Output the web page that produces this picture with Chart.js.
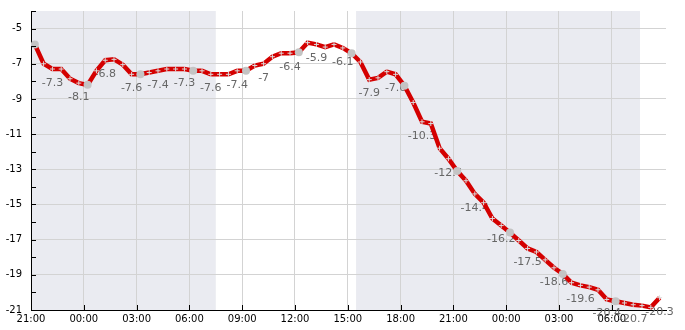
<!DOCTYPE html>
<html>
<head>
<meta charset="utf-8">
<script src="https://cdn.jsdelivr.net/npm/chart.js@4.4.1/dist/chart.umd.min.js"></script>
<style>
  html, body { margin: 0; padding: 0; background: #fff; }
</style>
</head>
<body>
<canvas id="temp-chart" width="685" height="330"></canvas>
<script>
// temperatura cada 30 min (hora local), desde 21:13
const times = [
  '21:13','21:43','22:13','22:43','23:13','23:43','00:13','00:43','01:13','01:43','02:13','02:43',
  '03:13','03:43','04:13','04:43','05:13','05:43','06:13','06:43','07:13','07:43','08:13','08:43',
  '09:13','09:43','10:13','10:43','11:13','11:43','12:13','12:43','13:13','13:43','14:13','14:43',
  '15:13','15:43','16:13','16:43','17:13','17:43','18:13','18:43','19:13','19:43','20:13','20:43',
  '21:13','21:43','22:13','22:43','23:13','23:43','00:13','00:43','01:13','01:43','02:13','02:43',
  '03:13','03:43','04:13','04:43','05:13','05:43','06:13','06:43','07:13','07:43','08:13','08:43'
];
const temps = [
  -5.9, -7.0, -7.3, -7.3, -7.85, -8.1, -8.2, -7.4, -6.8, -6.75, -7.05, -7.6,
  -7.6, -7.5, -7.4, -7.3, -7.3, -7.3, -7.4, -7.4, -7.6, -7.6, -7.6, -7.4,
  -7.4, -7.1, -7.0, -6.6, -6.4, -6.4, -6.35, -5.8, -5.9, -6.05, -5.9, -6.1,
  -6.4, -6.9, -7.9, -7.8, -7.45, -7.6, -8.25, -9.2, -10.3, -10.4, -11.8, -12.4,
  -13.1, -13.65, -14.4, -14.9, -15.8, -16.2, -16.6, -17.05, -17.5, -17.7, -18.15, -18.6,
  -18.95, -19.45, -19.6, -19.7, -19.85, -20.4, -20.5, -20.6, -20.7, -20.75, -20.85, -20.3
];

// puntos grises (cada 3 h)
const obsTimes = ['21:13','00:13','03:13','06:13','09:13','12:13','15:13','18:13','21:13','00:13','03:13','06:13'];
const obsTemps = [-5.9, -8.2, -7.6, -7.4, -7.4, -6.35, -6.4, -8.25, -13.1, -16.6, -18.95, -20.5];

// etiquetas de valor (cada 1.5 h)
const labelTimes = [
  '22:13','23:43','01:13','02:43','04:13','05:43','07:13','08:43','10:13','11:43','13:13','14:43',
  '16:13','17:43','19:13','20:43','22:13','23:43','01:13','02:43','04:13','05:43','07:13','08:43'
];
const labelTemps = [
  -7.3, -8.1, -6.8, -7.6, -7.4, -7.3, -7.6, -7.4, -7, -6.4, -5.9, -6.1,
  -7.9, -7.6, -10.3, -12.4, -14.4, -16.2, -17.5, -18.6, -19.6, -20.4, -20.7, -20.3
];

const tickLabels = ['21:00','00:00','03:00','06:00','09:00','12:00','15:00','18:00','21:00','00:00','03:00','06:00'];

// franjas nocturnas, en horas desde las 21:00
const nightBands = [[0, 10.5], [18.47, 34.6]];

// "HH:MM" -> horas desde 21:00 del primer dia
function toHours(list) {
    let day = 0, prev = -1;
    return list.map(t => {
        const [hh, mm] = t.split(':').map(Number);
        const v = hh + mm / 60;
        if (prev >= 0 && v < prev) day++;
        prev = v;
        return v - 21 + 24 * day;
    });
}

const pts = (tl, vals) => toHours(tl).map((x, i) => ({ x, y: vals[i] }));

const FONT = 'DejaVu Sans';

const nightPlugin = {
    id: 'night',
    beforeDraw(chart) {
        const { ctx, chartArea: a, scales: { x } } = chart;
        ctx.save();
        ctx.fillStyle = '#eaebf1';
        nightBands.forEach(([s, e]) => {
            const x0 = x.getPixelForValue(s), x1 = x.getPixelForValue(e);
            ctx.fillRect(x0, a.top, x1 - x0, a.bottom - a.top);
        });
        ctx.restore();
    }
};

const valueLabels = {
    id: 'valueLabels',
    beforeDatasetsDraw(chart) {
        const { ctx } = chart;
        const meta = chart.getDatasetMeta(2);
        ctx.save();
        ctx.font = '11px "' + FONT + '"';
        ctx.fillStyle = '#666';
        ctx.textAlign = 'center';
        ctx.textBaseline = 'middle';
        meta.data.forEach((p, i) => {
            ctx.fillText(String(labelTemps[i]), p.x, p.y + 14);
        });
        ctx.restore();
    }
};

// marcas de eje hacia dentro
const innerTicks = {
    id: 'innerTicks',
    afterDatasetsDraw(chart) {
        const { ctx, chartArea: a, scales: { x, y } } = chart;
        ctx.save();
        ctx.strokeStyle = '#000';
        ctx.lineWidth = 1;
        ctx.beginPath();
        y.ticks.forEach(t => {
            const py = Math.round(y.getPixelForValue(t.value)) + 0.5;
            ctx.moveTo(a.left, py);
            ctx.lineTo(a.left + 5, py);
        });
        x.ticks.forEach(t => {
            const px = Math.round(x.getPixelForValue(t.value)) + 0.5;
            ctx.moveTo(px, a.bottom);
            ctx.lineTo(px, a.bottom - 5);
        });
        ctx.stroke();
        ctx.restore();
    }
};

const gridColor = '#d3d3d3';

new Chart(document.getElementById('temp-chart'), {
    type: 'line',
    data: {
        datasets: [
            {
                label: 'obs',
                data: pts(obsTimes, obsTemps),
                showLine: false,
                pointRadius: 4,
                pointBackgroundColor: '#c4c4c4',
                pointBorderWidth: 0,
                order: 0
            },
            {
                label: 'temp',
                data: pts(times, temps),
                borderColor: '#d40000',
                borderWidth: 4.5,
                tension: 0,
                pointStyle: 'cross',
                pointRadius: 2.5,
                pointBorderColor: '#dcdcdc',
                pointBorderWidth: 1,
                order: 1
            },
            {
                label: 'labels',
                data: pts(labelTimes, labelTemps),
                showLine: false,
                pointRadius: 0,
                order: 2
            }
        ]
    },
    options: {
        responsive: false,
        animation: false,
        events: [],
        layout: { padding: { top: 11, right: 19, left: 0, bottom: 0 } },
        plugins: {
            legend: { display: false },
            tooltip: { enabled: false }
        },
        scales: {
            x: {
                type: 'linear',
                min: 0,
                max: 36.08,
                afterBuildTicks: s => { s.ticks = tickLabels.map((_, i) => ({ value: i * 3 })); },
                afterFit: s => { s.height = 20; s.paddingLeft = 0; s.paddingRight = 0; },
                ticks: {
                    callback: (v, i) => tickLabels[i],
                    color: '#000',
                    font: { family: FONT, size: 10 },
                    padding: 3,
                    maxRotation: 0,
                    autoSkip: false
                },
                grid: { color: gridColor, drawTicks: false },
                border: { color: '#000' }
            },
            y: {
                min: -21,
                max: -4,
                afterFit: s => { s.width = 31; s.paddingTop = 0; s.paddingBottom = 0; },
                ticks: {
                    stepSize: 1,
                    autoSkip: false,
                    callback: v => (Math.abs(v) % 2 === 1 ? v : ''),
                    color: '#000',
                    font: { family: FONT, size: 10 },
                    padding: 9
                },
                grid: {
                    color: c => (Math.abs(c.tick.value) % 2 === 1 ? gridColor : 'rgba(0,0,0,0)'),
                    drawTicks: false
                },
                border: { color: '#000' }
            }
        }
    },
    plugins: [nightPlugin, valueLabels, innerTicks]
});
</script>
</body>
</html>
